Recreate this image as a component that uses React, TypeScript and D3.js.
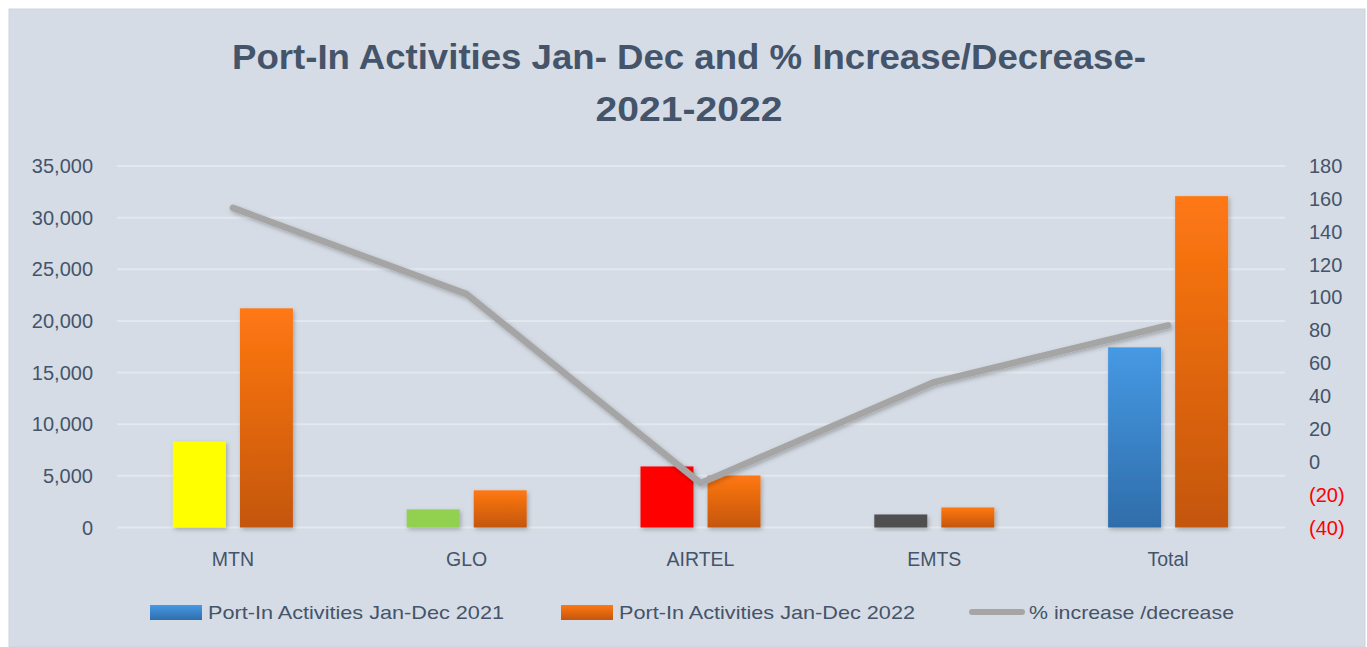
import React from "react";
import * as d3 from "d3";

const categories = ["MTN", "GLO", "AIRTEL", "EMTS", "Total"];
const values2021 = [8330, 1750, 5910, 1260, 17440];
const values2022 = [21220, 3600, 5040, 1940, 32080];
const pctChange = [154.5, 102, -13, 48.5, 83];
const leftTicks = [0, 5000, 10000, 15000, 20000, 25000, 30000, 35000];
const rightTicks = [-40, -20, 0, 20, 40, 60, 80, 100, 120, 140, 160, 180];
const colors2021 = ["#FFFF00", "#92D050", "#FF0000", "#505050", "url(#gBlue)"];
const seriesNames = ["Port-In Activities Jan-Dec 2021", "Port-In Activities Jan-Dec 2022", "% increase /decrease"];

const W = 1367, H = 647;
const FONT = "Liberation Sans, Arial, sans-serif";
const TXT = "#44546A";

export default function App() {
  const x = d3.scaleBand<string>().domain(categories).range([116, 1285]);
  const xs = d3.scaleBand<string>().domain(["a", "b"]).range([-60, 60]).paddingInner(0.21);
  const yL = d3.scaleLinear().domain([0, 35000]).range([527.5, 166]);
  const yR = d3.scaleLinear().domain([-40, 180]).range([527.5, 166]);
  const cx = (c: string) => (x(c) as number) + x.bandwidth() / 2;
  const line = d3.line<number>().x((_, i) => cx(categories[i])).y((d) => yR(d));
  const fmtL = d3.format(",");
  const fmtR = (v: number) => (v < 0 ? `(${Math.abs(v)})` : `${v}`);

  return (
    <svg width={W} height={H} style={{ position: "absolute", left: 0, top: 0 }}>
      <defs>
        <linearGradient id="gOrange" x1="0" y1="0" x2="0" y2="1">
          <stop offset="0" stopColor="#FF7812" />
          <stop offset="1" stopColor="#C4560E" />
        </linearGradient>
        <linearGradient id="gBlue" x1="0" y1="0" x2="0" y2="1">
          <stop offset="0" stopColor="#4699E4" />
          <stop offset="1" stopColor="#2F6DAA" />
        </linearGradient>
        <filter id="shadow" x="-20%" y="-20%" width="140%" height="140%">
          <feDropShadow dx="1.5" dy="2" stdDeviation="2" floodColor="#000" floodOpacity="0.25" />
        </filter>
      </defs>
      <rect x={0} y={0} width={W} height={H} fill="#ffffff" />
      <rect x={9} y={9} width={1356} height={638} fill="#D6DCE5" stroke="#CDD3DD" strokeWidth={1} />

      <text x={689} y={69} textAnchor="middle" fontFamily={FONT} fontWeight="bold" fontSize={35} fill={TXT}
        textLength={914} lengthAdjust="spacingAndGlyphs">
        Port-In Activities Jan- Dec and % Increase/Decrease-
      </text>
      <text x={689} y={121} textAnchor="middle" fontFamily={FONT} fontWeight="bold" fontSize={35} fill={TXT}
        textLength={187} lengthAdjust="spacingAndGlyphs">
        2021-2022
      </text>

      {leftTicks.map((t) => (
        <g key={"l" + t}>
          <line x1={117} x2={1285} y1={yL(t)} y2={yL(t)} stroke="#E3E7EE" strokeWidth={2} />
          <text x={93} y={yL(t)} dy="0.35em" textAnchor="end" fontFamily={FONT} fontSize={20} fill={TXT}>
            {fmtL(t)}
          </text>
        </g>
      ))}
      {rightTicks.map((t) => (
        <text key={"r" + t} x={1309} y={yR(t)} dy="0.35em" fontFamily={FONT} fontSize={20}
          fill={t < 0 ? "#FF0000" : TXT}>
          {fmtR(t)}
        </text>
      ))}

      {categories.map((c, i) => (
        <g key={c} filter="url(#shadow)">
          <rect x={cx(c) + (xs("a") as number)} y={yL(values2021[i])} width={xs.bandwidth()}
            height={yL(0) - yL(values2021[i])} fill={colors2021[i]} />
          <rect x={cx(c) + (xs("b") as number)} y={yL(values2022[i])} width={xs.bandwidth()}
            height={yL(0) - yL(values2022[i])} fill="url(#gOrange)" />
        </g>
      ))}

      <path d={line(pctChange) as string} fill="none" stroke="#A5A5A5" strokeWidth={6.5}
        strokeLinecap="round" strokeLinejoin="round" filter="url(#shadow)" />

      {categories.map((c) => (
        <text key={"x" + c} x={cx(c)} y={566} textAnchor="middle" fontFamily={FONT} fontSize={19.5} fill={TXT}>
          {c}
        </text>
      ))}

      <g fontFamily={FONT} fontSize={19} fill={TXT}>
        <rect x={150} y={605} width={52} height={15} fill="url(#gBlue)" />
        <text x={208} y={619} textLength={296} lengthAdjust="spacingAndGlyphs">{seriesNames[0]}</text>
        <rect x={561} y={605} width={52} height={15} fill="url(#gOrange)" />
        <text x={619} y={619} textLength={296} lengthAdjust="spacingAndGlyphs">{seriesNames[1]}</text>
        <line x1={972} x2={1022} y1={612} y2={612} stroke="#A5A5A5" strokeWidth={6} strokeLinecap="round" />
        <text x={1029} y={619} textLength={205} lengthAdjust="spacingAndGlyphs">{seriesNames[2]}</text>
      </g>
    </svg>
  );
}
